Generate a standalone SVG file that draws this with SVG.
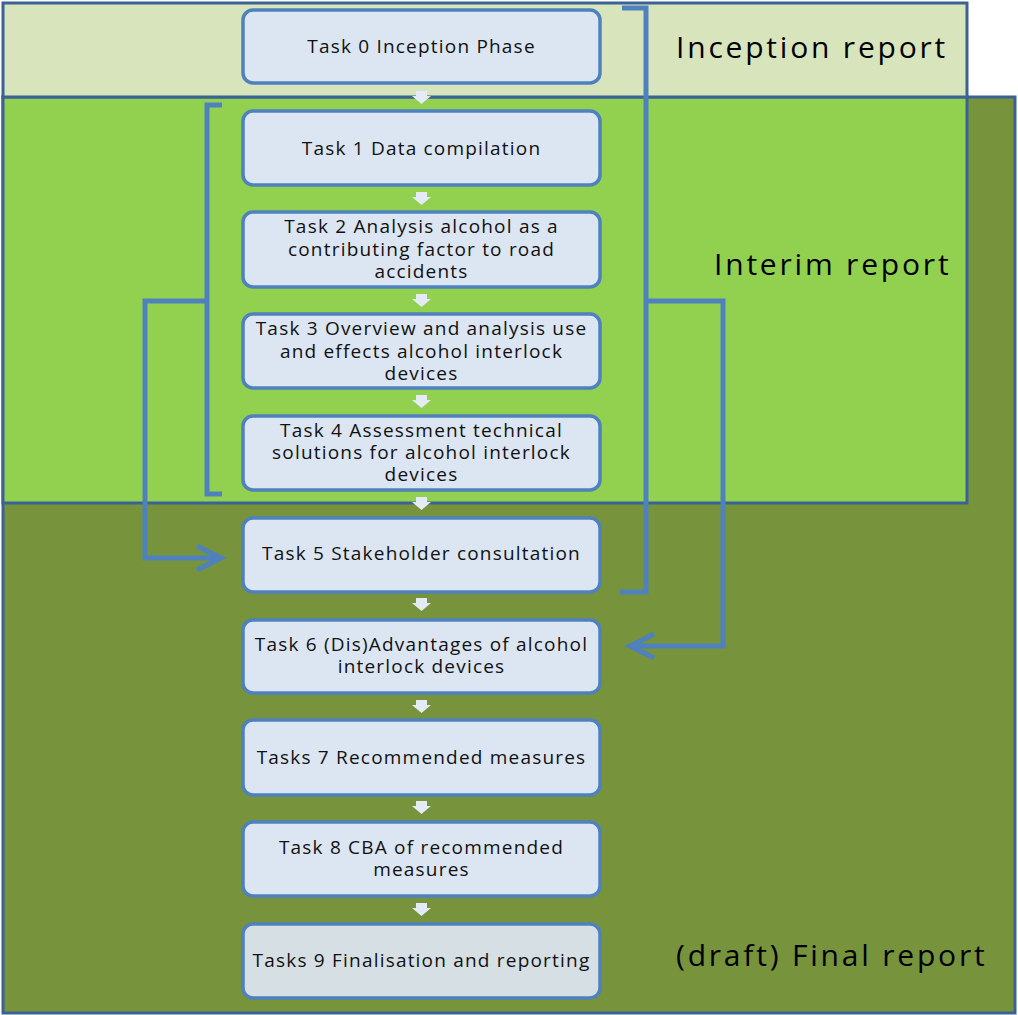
<svg xmlns="http://www.w3.org/2000/svg" width="1018" height="1015" viewBox="0 0 1018 1015">
<defs>
<style>
.zone{stroke:#3b6294;stroke-width:3}
.node{fill:#dce6f2;stroke:#4f81bd;stroke-width:3.5}
.t{font-family:"Open Sans","DejaVu Sans",sans-serif;font-size:19px;letter-spacing:1.2px;fill:#111;text-anchor:middle}
.lab{font-family:"Open Sans","DejaVu Sans",sans-serif;font-size:30px;letter-spacing:2.8px;fill:#000}
.br{fill:none;stroke:#4f81bd;stroke-width:5;stroke-linejoin:miter}
.sm{fill:#e4ebf5}
</style>
</defs>
<rect width="1018" height="1015" fill="#ffffff"/>
<g id="zones">
<rect class="zone" x="3" y="97" width="1012" height="916" fill="#77933c"/>
<rect class="zone" x="3" y="97" width="964" height="406" fill="#92d050"/>
<rect class="zone" x="3" y="3" width="964" height="94" fill="#d8e4bc"/>
<text class="lab" x="676" y="58">Inception report</text>
<text class="lab" x="714" y="275">Interim report</text>
<text class="lab" x="676" y="966">(draft) Final report</text>
</g>
<g id="connectors">
<g class="sm">
<path d="M416,91 h11 v5 h4 l-9.5,8 l-9.5,-8 h4z"/>
<path d="M416,192 h11 v5 h4 l-9.5,8 l-9.5,-8 h4z"/>
<path d="M416,294 h11 v5 h4 l-9.5,8 l-9.5,-8 h4z"/>
<path d="M416,395 h11 v5 h4 l-9.5,8 l-9.5,-8 h4z"/>
<path d="M416,497 h11 v5 h4 l-9.5,8 l-9.5,-8 h4z"/>
<path d="M416,598 h11 v5 h4 l-9.5,8 l-9.5,-8 h4z"/>
<path d="M416,700 h11 v5 h4 l-9.5,8 l-9.5,-8 h4z"/>
<path d="M416,801 h11 v5 h4 l-9.5,8 l-9.5,-8 h4z"/>
<path d="M416,903 h11 v5 h4 l-9.5,8 l-9.5,-8 h4z"/>
</g>
<path class="br" d="M222,105 H207 V494 H222"/>
<path class="br" d="M207,301 H145 V558 H220"/>
<path class="br" d="M197,546 L221,558 L197,570"/>
<path class="br" d="M622,8 H646 V592 H620"/>
<path class="br" d="M646,301 H723 V646 H630"/>
<path class="br" d="M654,634 L630,646 L654,658"/>
</g>
<g id="task0"><rect class="node" x="243" y="10" width="357" height="73" rx="10"/><text class="t" x="421.5" y="53">Task 0 Inception Phase</text></g>
<g id="task1"><rect class="node" x="243" y="111" width="357" height="74" rx="10"/><text class="t" x="421.5" y="155">Task 1 Data compilation</text></g>
<g id="task2"><rect class="node" x="243" y="212" width="357" height="75" rx="10"/><text class="t" x="421.5" y="233">Task 2 Analysis alcohol as a<tspan x="421.5" dy="22.5">contributing factor to road</tspan><tspan x="421.5" dy="22.5">accidents</tspan></text></g>
<g id="task3"><rect class="node" x="243" y="314" width="357" height="74" rx="10"/><text class="t" x="421.5" y="335">Task 3 Overview and analysis use<tspan x="421.5" dy="22.5">and effects alcohol interlock</tspan><tspan x="421.5" dy="22.5">devices</tspan></text></g>
<g id="task4"><rect class="node" x="243" y="416" width="357" height="74" rx="10"/><text class="t" x="421.5" y="437">Task 4 Assessment technical<tspan x="421.5" dy="22">solutions for alcohol interlock</tspan><tspan x="421.5" dy="22">devices</tspan></text></g>
<g id="task5"><rect class="node" x="243" y="518" width="357" height="74" rx="10"/><text class="t" x="421.5" y="560">Task 5 Stakeholder consultation</text></g>
<g id="task6"><rect class="node" x="243" y="620" width="357" height="73" rx="10"/><text class="t" x="421.5" y="651">Task 6 (Dis)Advantages of alcohol<tspan x="421.5" dy="22">interlock devices</tspan></text></g>
<g id="task7"><rect class="node" x="243" y="720" width="357" height="75" rx="10"/><text class="t" x="421.5" y="764">Tasks 7 Recommended measures</text></g>
<g id="task8"><rect class="node" x="243" y="822" width="357" height="74" rx="10"/><text class="t" x="421.5" y="854">Task 8 CBA of recommended<tspan x="421.5" dy="22">measures</tspan></text></g>
<g id="task9"><rect class="node" x="243" y="924" width="357" height="74" rx="10" style="fill:#d6dfe3"/><text class="t" x="421.5" y="967">Tasks 9 Finalisation and reporting</text></g>
</svg>
